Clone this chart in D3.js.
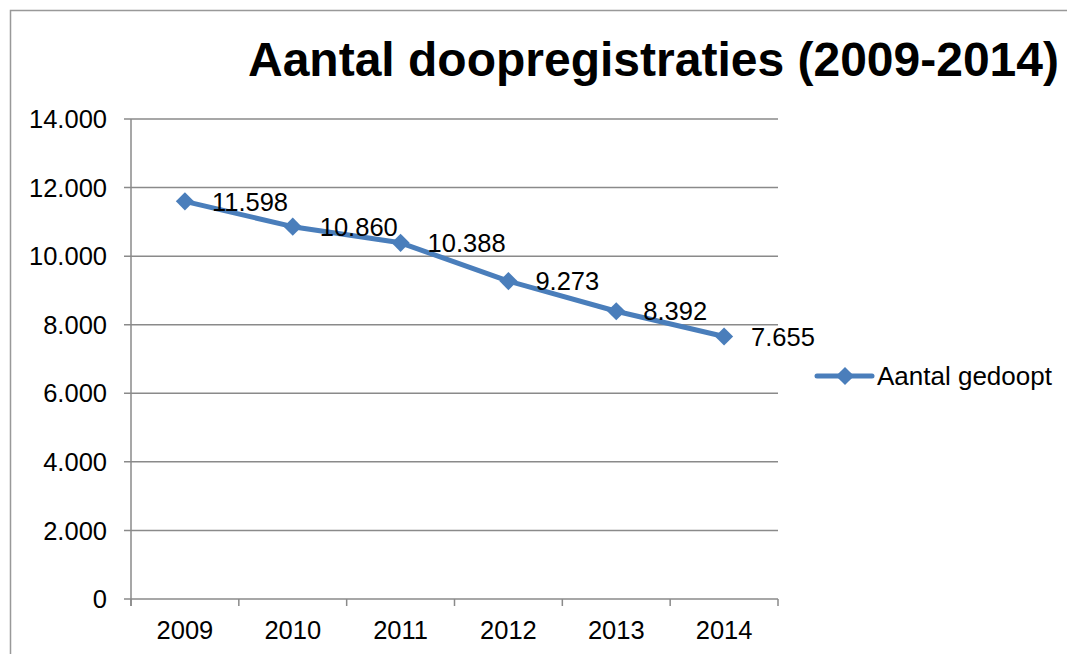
<!DOCTYPE html>
<html>
<head>
<meta charset="utf-8">
<script src="https://cdn.jsdelivr.net/npm/d3@7"></script>
<style>
  html, body { margin: 0; padding: 0; background: #fff; }
  #chart { width: 1067px; height: 654px; }
</style>
</head>
<body>
<div id="chart"></div>
<script>
const years = ["2009", "2010", "2011", "2012", "2013", "2014"];
const gedoopt = [11598, 10860, 10388, 9273, 8392, 7655];
const yTicks = [0, 2000, 4000, 6000, 8000, 10000, 12000, 14000];
const seriesName = "Aantal gedoopt";
const title = "Aantal doopregistraties (2009-2014)";

const width = 1067;
const height = 654;
const margin = { top: 119, right: 289, bottom: 55, left: 131 };
const blue = "#4A7EBB";
const grey = "#8a8a8a";
const font = "'Liberation Sans', Arial, sans-serif";
const labelSize = "25.5px";
const nl = d3.formatLocale({ decimal: ",", thousands: ".", grouping: [3], currency: ["€", ""] });
const fmt = nl.format(",.0f");

const svg = d3.select("#chart").append("svg")
    .attr("width", width)
    .attr("height", height)
    .style("font-family", font);

// chart border (right and bottom run off the picture)
svg.append("rect")
    .attr("x", 10.5).attr("y", 10.5)
    .attr("width", width + 20).attr("height", height + 20)
    .attr("fill", "none")
    .attr("stroke", "#999")
    .attr("stroke-width", 1.5);

const x = d3.scaleBand()
    .domain(years)
    .range([margin.left, width - margin.right])
    .paddingInner(0).paddingOuter(0);

const y = d3.scaleLinear()
    .domain([0, 14000])
    .range([height - margin.bottom, margin.top]);

// gridlines incl. the little tick stub left of the axis
svg.append("g")
    .selectAll("line")
    .data(yTicks)
    .join("line")
    .attr("x1", margin.left - 7)
    .attr("x2", x.range()[1])
    .attr("y1", d => y(d))
    .attr("y2", d => y(d))
    .attr("stroke", grey)
    .attr("stroke-width", 1.5);

svg.append("g")
    .selectAll("text")
    .data(yTicks)
    .join("text")
    .attr("x", margin.left - 24)
    .attr("y", d => y(d))
    .attr("dy", "0.36em")
    .attr("text-anchor", "end")
    .attr("fill", "#000")
    .style("font-size", labelSize)
    .text(d => fmt(d));

// y axis line
svg.append("line")
    .attr("x1", margin.left).attr("x2", margin.left)
    .attr("y1", y(14000)).attr("y2", y(0) + 7)
    .attr("stroke", grey)
    .attr("stroke-width", 1.5);

// x axis boundary ticks
const bounds = years.map(d => x(d)).concat([x.range()[1]]);
svg.append("g")
    .selectAll("line")
    .data(bounds)
    .join("line")
    .attr("x1", d => d).attr("x2", d => d)
    .attr("y1", y(0)).attr("y2", y(0) + 7)
    .attr("stroke", grey)
    .attr("stroke-width", 1.5);

svg.append("g")
    .selectAll("text")
    .data(years)
    .join("text")
    .attr("x", d => x(d) + x.bandwidth() / 2)
    .attr("y", y(0) + 40)
    .attr("text-anchor", "middle")
    .attr("fill", "#000")
    .style("font-size", labelSize)
    .text(d => d);

// series
const pts = years.map((yr, i) => ({ yr, v: gedoopt[i] }));
const cx = d => x(d.yr) + x.bandwidth() / 2;

svg.append("path")
    .datum(pts)
    .attr("fill", "none")
    .attr("stroke", blue)
    .attr("stroke-width", 5)
    .attr("stroke-linejoin", "round")
    .attr("stroke-linecap", "round")
    .attr("d", d3.line().x(cx).y(d => y(d.v)));

const diamond = d3.symbol().type(d3.symbolDiamond2).size(210);

svg.append("g")
    .selectAll("path")
    .data(pts)
    .join("path")
    .attr("transform", d => `translate(${cx(d)},${y(d.v)})`)
    .attr("d", diamond)
    .attr("fill", blue);

svg.append("g")
    .selectAll("text")
    .data(pts)
    .join("text")
    .attr("x", d => cx(d) + 27)
    .attr("y", d => y(d.v))
    .attr("dy", "0.36em")
    .attr("fill", "#000")
    .style("font-size", labelSize)
    .text(d => fmt(d.v));

// legend
const legend = svg.append("g").attr("transform", "translate(817,376)");
legend.append("line")
    .attr("x1", 0).attr("x2", 55)
    .attr("y1", 0).attr("y2", 0)
    .attr("stroke", blue)
    .attr("stroke-width", 5)
    .attr("stroke-linecap", "round");
legend.append("path")
    .attr("transform", "translate(28,0)")
    .attr("d", diamond)
    .attr("fill", blue);
legend.append("text")
    .attr("x", 60)
    .attr("y", 0)
    .attr("dy", "0.36em")
    .attr("fill", "#000")
    .style("font-size", "26px")
    .text(seriesName);

// title
svg.append("text")
    .attr("x", 248)
    .attr("y", 76)
    .attr("fill", "#000")
    .style("font-size", "48px")
    .style("font-weight", "bold")
    .text(title);
</script>
</body>
</html>
